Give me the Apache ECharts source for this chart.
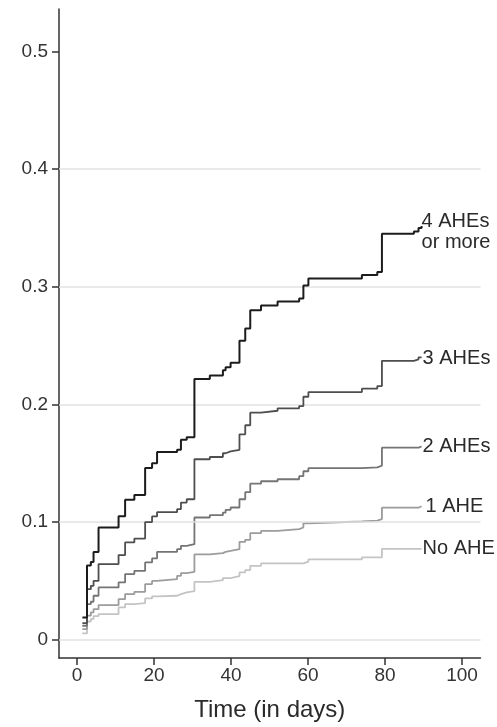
<!DOCTYPE html>
<html>
<head>
<meta charset="utf-8">
<script src="https://cdn.jsdelivr.net/npm/echarts@6/dist/echarts.min.js"></script>
<style>html,body{margin:0;padding:0;background:#fff}#c{width:497px;height:727px}</style>
</head>
<body>
<div id="c"></div>
<script>
var times = [1.4, 2.6, 3.6, 4.3, 5.6, 10.8, 12.5, 14.9, 17.7, 19.5, 20.8, 26.0, 27.0, 28.5, 30.5, 34.5, 37.9, 38.6, 39.9, 42.2, 43.7, 45.0, 47.8, 52.1, 57.7, 58.8, 60.1, 74.0, 78.0, 79.2, 87.5, 88.7, 89.5];
var noAHE = [0.0054, 0.0155, 0.0176, 0.0201, 0.0218, 0.0275, 0.0303, 0.0312, 0.0351, 0.0368, 0.0374, 0.0388, 0.0402, 0.0413, 0.0492, 0.0507, 0.0524, 0.0524, 0.054, 0.0572, 0.0592, 0.0628, 0.0649, 0.0649, 0.0649, 0.0664, 0.0683, 0.070, 0.070, 0.0773, 0.0773, 0.0773, 0.0773];
var oneAHE = [0.0091, 0.0205, 0.0233, 0.026, 0.0295, 0.0345, 0.0388, 0.0407, 0.0473, 0.050, 0.0515, 0.0543, 0.0566, 0.0577, 0.0725, 0.0736, 0.0747, 0.0755, 0.077, 0.0832, 0.0849, 0.0906, 0.0925, 0.094, 0.0954, 0.099, 0.1005, 0.1012, 0.1025, 0.1122, 0.1122, 0.1135, 0.1135];
var twoAHE = [0.0119, 0.0303, 0.0323, 0.0374, 0.0445, 0.0487, 0.0558, 0.0586, 0.0657, 0.0691, 0.0747, 0.077, 0.0798, 0.0812, 0.1039, 0.1059, 0.1081, 0.1104, 0.1124, 0.1194, 0.1254, 0.1326, 0.1347, 0.1364, 0.139, 0.1432, 0.1458, 0.1465, 0.148, 0.1632, 0.1632, 0.1642, 0.1642];
var threeAHE = [0.0142, 0.043, 0.0458, 0.050, 0.0643, 0.072, 0.0827, 0.086, 0.100, 0.1048, 0.1084, 0.111, 0.1166, 0.1194, 0.1534, 0.1553, 0.1585, 0.160, 0.1613, 0.1746, 0.1823, 0.193, 0.1946, 0.1967, 0.1986, 0.2065, 0.2105, 0.2134, 0.2156, 0.237, 0.2383, 0.240, 0.240];
var fourAHE = [0.019, 0.063, 0.066, 0.0745, 0.0955, 0.105, 0.119, 0.123, 0.146, 0.150, 0.1595, 0.1615, 0.170, 0.172, 0.2215, 0.2245, 0.229, 0.2315, 0.2355, 0.254, 0.2645, 0.280, 0.284, 0.2875, 0.290, 0.301, 0.307, 0.310, 0.3125, 0.345, 0.347, 0.350, 0.3515];
var seriesNames = ['No AHE', '1 AHE', '2 AHEs', '3 AHEs', '4 AHEs\nor more'];
var xTicks = [0, 20, 40, 60, 80, 100];
var yTicks = [0, 0.1, 0.2, 0.3, 0.4, 0.5];
var gridVals = [0, 0.1, 0.2, 0.3, 0.4];

var FONT = 'Liberation Sans, Arial, sans-serif';
var allVals = [noAHE, oneAHE, twoAHE, threeAHE, fourAHE];
var colors = ['#c4c4c4', '#9c9c9c', '#747474', '#4e4e4e', '#1c1c1c'];
var widths = [1.8, 1.8, 1.8, 1.8, 2];
var labelDist = [1, 4, 1, 1, 0];
var labelOff = [[0, 0], [0, 0], [0, 0], [0, 1], [0, 6]];

var series = [{
  type: 'line', data: [], silent: true, z: 0,
  markLine: {
    silent: true, symbol: 'none', animation: false,
    label: {show: false},
    lineStyle: {color: '#e2e2e2', type: 'solid', width: 1.5},
    data: gridVals.map(function (v) { return {yAxis: v}; })
  }
}];
allVals.forEach(function (vals, k) {
  series.push({
    name: seriesNames[k],
    type: 'line',
    step: 'end',
    showSymbol: false,
    symbol: 'none',
    z: 2 + k,
    data: times.map(function (t, i) { return [t, vals[i]]; }),
    lineStyle: {color: colors[k], width: widths[k]},
    endLabel: {
      show: true,
      formatter: seriesNames[k],
      fontFamily: FONT,
      fontSize: 20,
      lineHeight: 21,
      color: '#2a2a2a',
      distance: labelDist[k],
      offset: labelOff[k]
    }
  });
});

var axisLineStyle = {color: '#333', width: 1.5};
var chart = echarts.init(document.getElementById('c'));
chart.setOption({
  animation: false,
  backgroundColor: '#fff',
  grid: {left: 59, right: 16.5, top: 9, bottom: 68, containLabel: false},
  xAxis: {
    type: 'value', min: -4.67, max: 104.8,
    axisLine: {show: true, onZero: false, lineStyle: axisLineStyle},
    axisTick: {show: true, customValues: xTicks, length: 7, lineStyle: axisLineStyle},
    axisLabel: {customValues: xTicks, fontFamily: FONT, fontSize: 19, color: '#333', margin: 8},
    splitLine: {show: false},
    name: 'Time (in days)', nameLocation: 'middle', nameGap: 40,
    nameTextStyle: {fontFamily: FONT, fontSize: 24, color: '#2a2a2a'}
  },
  yAxis: {
    type: 'value', min: -0.0155, max: 0.536,
    axisLine: {show: true, onZero: false, lineStyle: axisLineStyle},
    axisTick: {show: true, customValues: yTicks, length: 7, lineStyle: axisLineStyle},
    axisLabel: {customValues: yTicks, fontFamily: FONT, fontSize: 19, color: '#333', margin: 11,
      formatter: function (v) { return v === 0 ? '0' : v.toFixed(1); }},
    splitLine: {show: false}
  },
  series: series
});
</script>
</body>
</html>
